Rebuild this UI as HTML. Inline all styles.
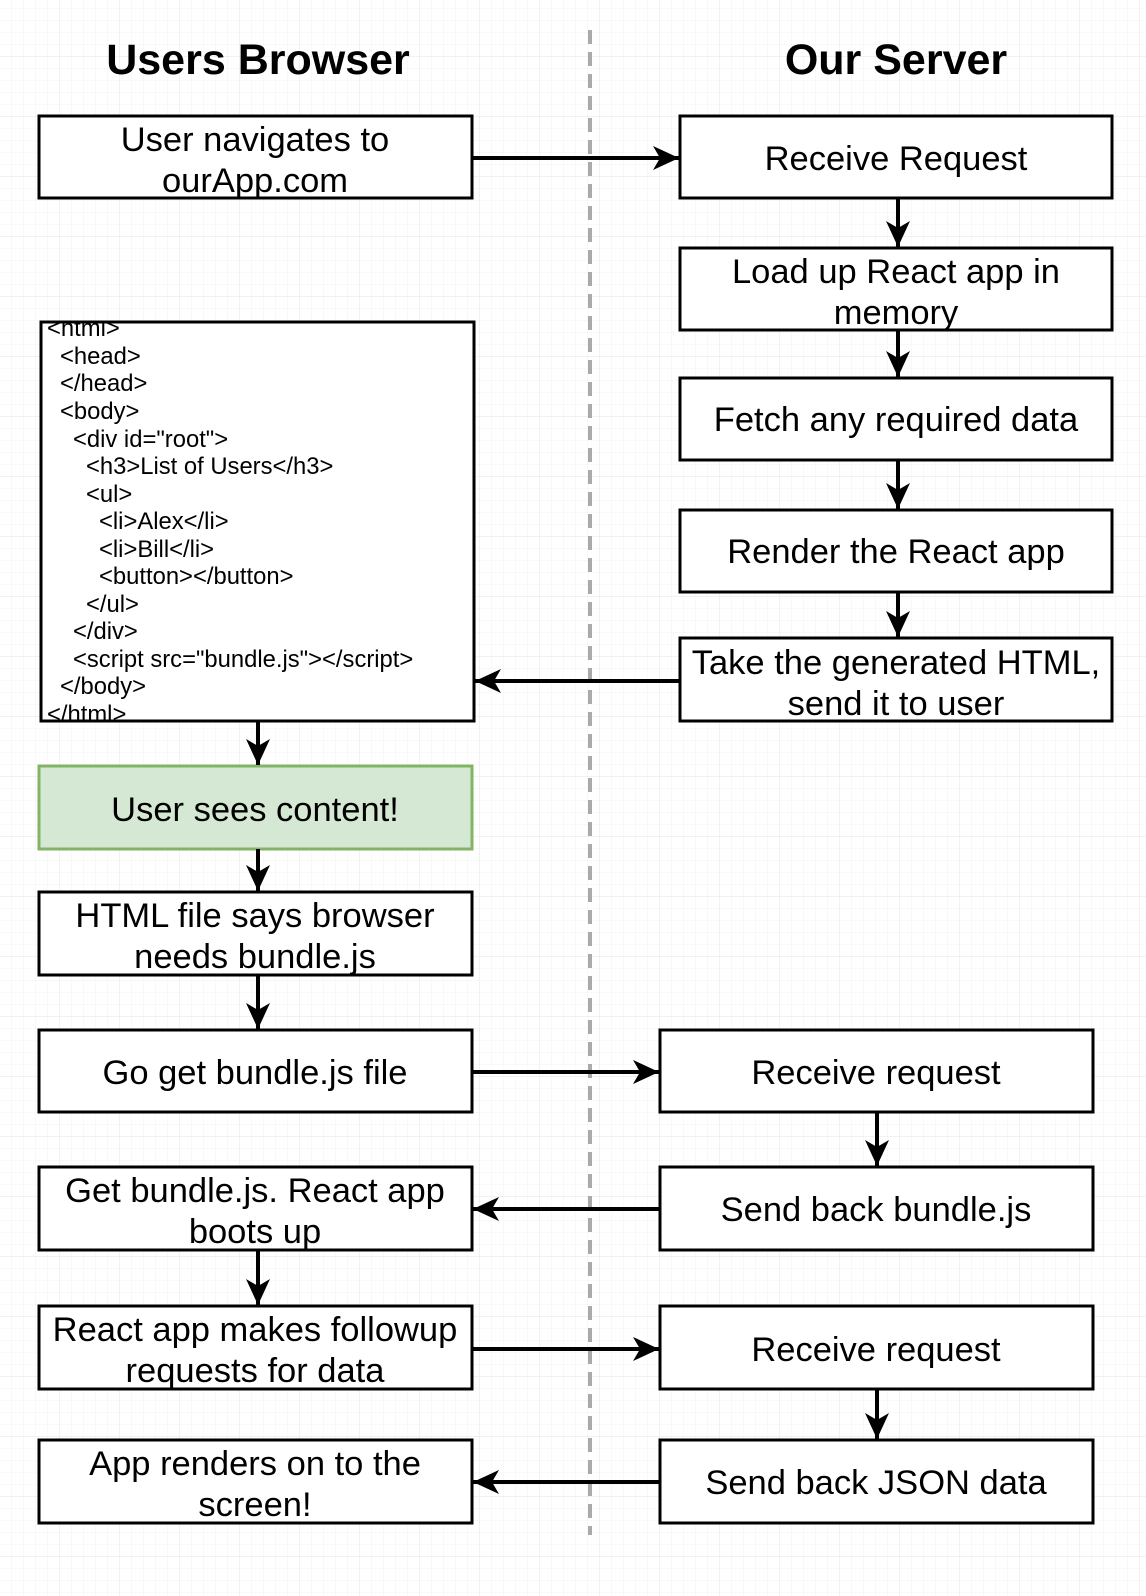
<!DOCTYPE html>
<html><head><meta charset="utf-8"><style>
html,body{margin:0;padding:0;background:#fff}
svg{display:block}
text{font-family:"Liberation Sans",Arial,sans-serif;fill:#000}
</style></head><body>
<svg width="1146" height="1596" viewBox="0 0 1146 1596" xmlns="http://www.w3.org/2000/svg">
<defs>
<pattern id="minor" width="12" height="12" patternUnits="userSpaceOnUse" x="0" y="9">
<path d="M12 0V12M0 12H12" fill="none" stroke="#f3f3f3" stroke-width="1"/>
</pattern>
<pattern id="major" width="60" height="60" patternUnits="userSpaceOnUse" x="0" y="57">
<path d="M60 0V60M0 60H60" fill="none" stroke="#e4e4e4" stroke-width="1"/>
</pattern>
<marker id="ah" markerWidth="30" markerHeight="30" refX="26" refY="12" orient="auto" markerUnits="userSpaceOnUse">
<path d="M0 0L26 12L0 24L7 12Z" fill="#000"/>
</marker>
<clipPath id="cc"><rect x="42" y="323" width="430" height="397"/></clipPath>
</defs>
<rect width="1146" height="1596" fill="#fff"/>
<rect width="1146" height="1596" fill="url(#minor)"/>
<rect width="1146" height="1596" fill="url(#major)"/>

<line x1="590" y1="30" x2="590" y2="1535" stroke="#aaa" stroke-width="4" stroke-dasharray="14,8"/>

<text x="258" y="74" font-size="43" font-weight="bold" text-anchor="middle">Users Browser</text>
<text x="896" y="74" font-size="43" font-weight="bold" text-anchor="middle">Our Server</text>

<g fill="#fff" stroke="#000" stroke-width="3">
<rect x="39" y="116" width="433" height="82"/>
<rect x="41" y="322" width="433" height="399"/>
<rect x="39" y="892" width="433" height="83"/>
<rect x="39" y="1030" width="433" height="82"/>
<rect x="39" y="1167" width="433" height="83"/>
<rect x="39" y="1306" width="433" height="83"/>
<rect x="39" y="1440" width="433" height="83"/>
<rect x="680" y="116" width="432" height="82"/>
<rect x="680" y="248" width="432" height="82"/>
<rect x="680" y="378" width="432" height="82"/>
<rect x="680" y="510" width="432" height="82"/>
<rect x="680" y="638" width="432" height="83"/>
<rect x="660" y="1030" width="433" height="82"/>
<rect x="660" y="1167" width="433" height="83"/>
<rect x="660" y="1306" width="433" height="83"/>
<rect x="660" y="1440" width="433" height="83"/>
</g>
<rect x="39" y="766" width="433" height="83" fill="#d5e8d4" stroke="#82b366" stroke-width="3"/>

<g font-size="34.5" text-anchor="middle">
<text x="255" y="151">User navigates to</text>
<text x="255" y="192">ourApp.com</text>
<text x="255" y="821">User sees content!</text>
<text x="255" y="927">HTML file says browser</text>
<text x="255" y="968">needs bundle.js</text>
<text x="255" y="1084">Go get bundle.js file</text>
<text x="255" y="1202">Get bundle.js.  React app</text>
<text x="255" y="1243">boots up</text>
<text x="255" y="1341">React app makes followup</text>
<text x="255" y="1382">requests for data</text>
<text x="255" y="1475">App renders on to the</text>
<text x="255" y="1516">screen!</text>
<text x="896" y="170">Receive Request</text>
<text x="896" y="283">Load up React app in</text>
<text x="896" y="324">memory</text>
<text x="896" y="431">Fetch any required data</text>
<text x="896" y="563">Render the React app</text>
<text x="896" y="674">Take the generated HTML,</text>
<text x="896" y="715">send it to user</text>
<text x="876" y="1084">Receive request</text>
<text x="876" y="1221">Send back bundle.js</text>
<text x="876" y="1361">Receive request</text>
<text x="876" y="1494">Send back JSON data</text>
</g>

<g font-size="23.8" clip-path="url(#cc)">
<text x="47" y="336">&lt;html&gt;</text>
<text x="60" y="364">&lt;head&gt;</text>
<text x="60" y="391">&lt;/head&gt;</text>
<text x="60" y="419">&lt;body&gt;</text>
<text x="73" y="447">&lt;div id="root"&gt;</text>
<text x="86" y="474">&lt;h3&gt;List of Users&lt;/h3&gt;</text>
<text x="86" y="502">&lt;ul&gt;</text>
<text x="99" y="529">&lt;li&gt;Alex&lt;/li&gt;</text>
<text x="99" y="557">&lt;li&gt;Bill&lt;/li&gt;</text>
<text x="99" y="584">&lt;button&gt;&lt;/button&gt;</text>
<text x="86" y="612">&lt;/ul&gt;</text>
<text x="73" y="639">&lt;/div&gt;</text>
<text x="73" y="667">&lt;script src="bundle.js"&gt;&lt;/script&gt;</text>
<text x="60" y="694">&lt;/body&gt;</text>
<text x="47" y="722">&lt;/html&gt;</text>
</g>

<g stroke="#000" stroke-width="4" fill="none" marker-end="url(#ah)">
<line x1="472" y1="158" x2="679" y2="158"/>
<line x1="898" y1="198" x2="898" y2="247"/>
<line x1="898" y1="330" x2="898" y2="377"/>
<line x1="898" y1="460" x2="898" y2="509"/>
<line x1="898" y1="592" x2="898" y2="637"/>
<line x1="680" y1="681" x2="475" y2="681"/>
<line x1="258" y1="721" x2="258" y2="765"/>
<line x1="258" y1="849" x2="258" y2="891"/>
<line x1="258" y1="975" x2="258" y2="1029"/>
<line x1="472" y1="1072" x2="659" y2="1072"/>
<line x1="877" y1="1112" x2="877" y2="1166"/>
<line x1="660" y1="1209" x2="473" y2="1209"/>
<line x1="258" y1="1250" x2="258" y2="1305"/>
<line x1="472" y1="1349" x2="659" y2="1349"/>
<line x1="877" y1="1389" x2="877" y2="1439"/>
<line x1="660" y1="1482" x2="473" y2="1482"/>
</g>
</svg>
</body></html>
